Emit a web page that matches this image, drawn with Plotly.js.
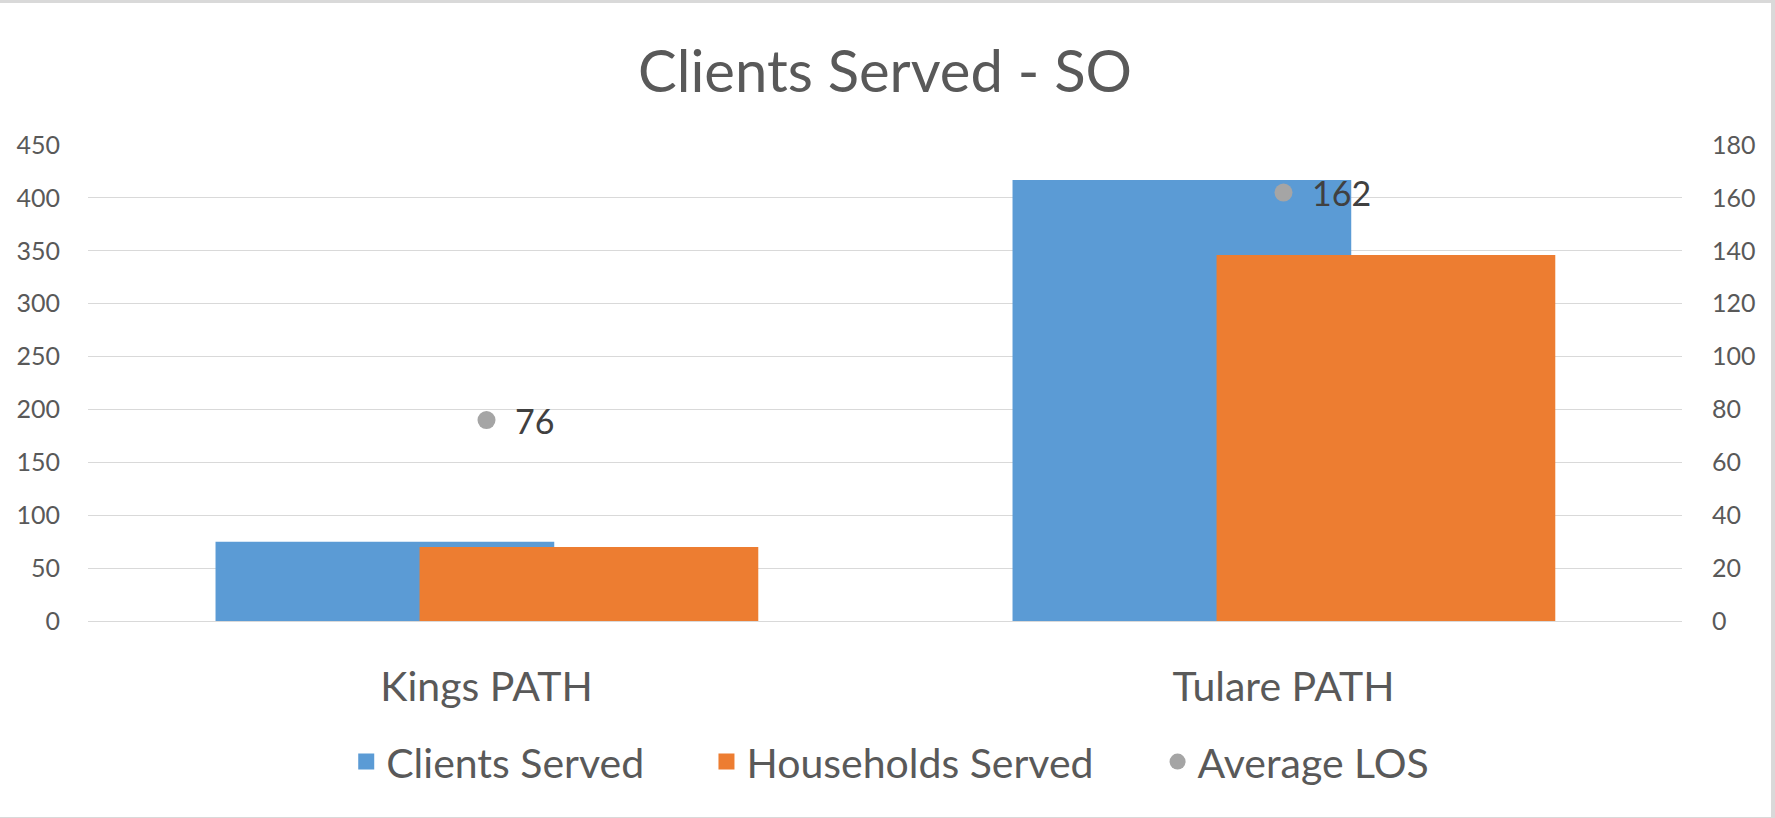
<!DOCTYPE html>
<html>
<head>
<meta charset="utf-8">
<script src="https://cdn.plot.ly/plotly-3.0.1.min.js"></script>
<style>
  html, body { margin: 0; padding: 0; background: #ffffff; }
  #frame { position: absolute; left: 0; top: 0; width: 1775px; height: 818px; background: #d9d9d9; }
  #chart { position: absolute; left: 0; top: 3px; width: 1771px; height: 814px; background: #ffffff; }
</style>
</head>
<body>
<div id="frame"></div>
<div id="chart"></div>
<script>
// ---- data ----
const categories = ["Kings PATH", "Tulare PATH"];
const clientsServed = [75, 417];
const householdsServed = [70, 346];
const averageLOS = [76, 162];
const leftTicks = [0, 50, 100, 150, 200, 250, 300, 350, 400, 450];
const rightTicks = [0, 20, 40, 60, 80, 100, 120, 140, 160, 180];

const FONT = "Lato, 'Open Sans', sans-serif";
const TXT = "#595959";
const BLUE = "#5B9BD5", ORANGE = "#ED7D31", GREY = "#A5A5A5";

const traces = [
  {
    type: "bar", name: "Clients Served", x: categories, y: clientsServed,
    marker: { color: BLUE }, width: 0.425, offset: -0.340,
    showlegend: false, hoverinfo: "x+y"
  },
  {
    type: "bar", name: "Households Served", x: categories, y: householdsServed,
    marker: { color: ORANGE }, width: 0.425, offset: -0.084,
    showlegend: false, hoverinfo: "x+y"
  },
  {
    type: "scatter", mode: "markers", name: "Average LOS", x: categories, y: averageLOS,
    yaxis: "y2", marker: { color: GREY, size: 18 },
    legend: "legend3", cliponaxis: false
  },
  // legend entries for the bar series (larger square swatches)
  {
    type: "scatter", mode: "markers", name: "Clients Served", x: [null], y: [null],
    marker: { color: BLUE, symbol: "square", size: 16 }, legend: "legend", hoverinfo: "skip"
  },
  {
    type: "scatter", mode: "markers", name: "Households Served", x: [null], y: [null],
    marker: { color: ORANGE, symbol: "square", size: 16 }, legend: "legend2", hoverinfo: "skip"
  }
];

const annotations = categories.map((c, i) => ({
  x: c, y: averageLOS[i], xref: "x", yref: "y2",
  text: String(averageLOS[i]), showarrow: false,
  xanchor: "left", yanchor: "middle", xshift: 26, yshift: 0,
  font: { family: FONT, size: 34, color: "#404040" }
}));

const legendCommon = {
  orientation: "h", yanchor: "middle", y: -0.296, xanchor: "left",
  font: { family: FONT, size: 41, color: TXT }, bgcolor: "rgba(0,0,0,0)"
};

const layout = {
  width: 1771, height: 814,
  margin: { l: 88, r: 89, t: 142, b: 196 },
  paper_bgcolor: "#ffffff", plot_bgcolor: "#ffffff",
  barmode: "overlay",
  title: {
    text: "Clients Served - SO",
    font: { family: FONT, size: 58, color: TXT },
    x: 0.5, xanchor: "center", xref: "paper",
    y: 0.915, yanchor: "middle", yref: "container"
  },
  xaxis: {
    type: "category", range: [-0.5, 1.5], showgrid: false, showline: false, zeroline: false,
    ticks: "outside", ticklen: 30, tickcolor: "rgba(0,0,0,0)",
    tickfont: { family: FONT, size: 41, color: TXT }
  },
  yaxis: {
    range: [0, 450], tickvals: leftTicks, showgrid: true, gridcolor: "#d9d9d9", gridwidth: 1,
    zeroline: true, zerolinecolor: "#d9d9d9", zerolinewidth: 1, showline: false,
    ticks: "outside", ticklen: 22, tickcolor: "rgba(0,0,0,0)",
    tickfont: { family: FONT, size: 25, color: TXT }
  },
  yaxis2: {
    overlaying: "y", side: "right", range: [0, 180], tickvals: rightTicks,
    showgrid: false, zeroline: false, showline: false,
    ticks: "outside", ticklen: 24, tickcolor: "rgba(0,0,0,0)",
    tickfont: { family: FONT, size: 25, color: TXT }
  },
  annotations: annotations,
  legend: Object.assign({}, legendCommon, { x: 0.162 }),
  legend2: Object.assign({}, legendCommon, { x: 0.388 }),
  legend3: Object.assign({}, legendCommon, { x: 0.671 }),
  showlegend: true
};

Plotly.newPlot("chart", traces, layout, { displayModeBar: false, staticPlot: true });
</script>
</body>
</html>
